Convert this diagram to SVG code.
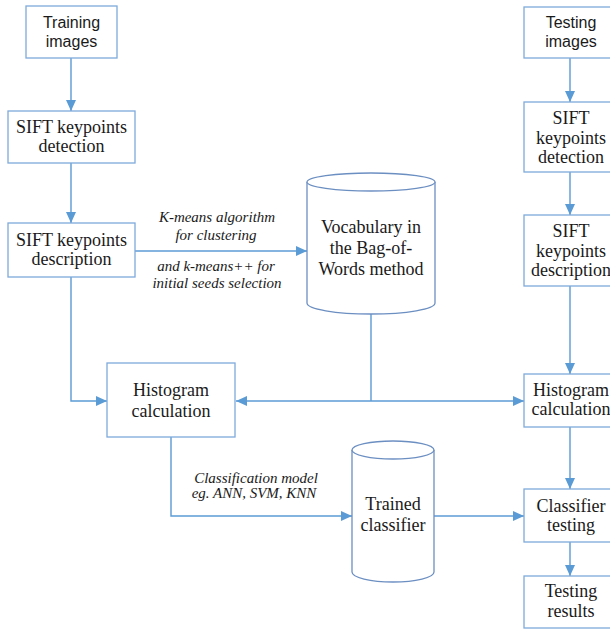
<svg xmlns="http://www.w3.org/2000/svg" width="610" height="629" viewBox="0 0 610 629">
<style>
.box{fill:#fff;stroke:#7FAADB;stroke-width:1.3}
.cyl{fill:#fff;stroke:#6C8FC2;stroke-width:1.3}
.ln{fill:none;stroke:#5B9BD5;stroke-width:1.4}
.t{font-family:"Liberation Serif","Times New Roman",serif;font-size:18px;fill:#1a1a1a;text-anchor:middle}
.s{font-family:"Liberation Sans",Arial,sans-serif;font-size:16px;fill:#1a1a1a;text-anchor:middle}
.i{font-family:"Liberation Serif","Times New Roman",serif;font-size:15px;font-style:italic;fill:#1a1a1a;text-anchor:middle}
</style>
<defs>
<marker id="ah" markerUnits="userSpaceOnUse" markerWidth="12" markerHeight="10" refX="11" refY="5" orient="auto">
<path d="M0,0 L11,5 L0,10 Z" fill="#5B9BD5"/>
</marker>
<marker id="ahs" markerUnits="userSpaceOnUse" markerWidth="12" markerHeight="10" refX="11" refY="5" orient="auto-start-reverse">
<path d="M0,0 L11,5 L0,10 Z" fill="#5B9BD5"/>
</marker>
</defs>
<rect width="610" height="629" fill="#fff"/>
<g id="connectors">
<line class="ln" x1="71" y1="58" x2="71" y2="111" marker-end="url(#ah)"/>
<line class="ln" x1="71" y1="163" x2="71" y2="223" marker-end="url(#ah)"/>
<line class="ln" x1="135" y1="251" x2="307" y2="251" marker-end="url(#ah)"/>
<polyline class="ln" points="71,277 71,401 107,401" marker-end="url(#ah)"/>
<line class="ln" x1="371" y1="314" x2="371" y2="401"/>
<line class="ln" x1="236" y1="401" x2="524" y2="401" marker-start="url(#ahs)" marker-end="url(#ahs)"/>
<polyline class="ln" points="171,437 171,516 352,516" marker-end="url(#ah)"/>
<line class="ln" x1="434" y1="516" x2="524" y2="516" marker-end="url(#ah)"/>
<line class="ln" x1="570" y1="58" x2="570" y2="102" marker-end="url(#ah)"/>
<line class="ln" x1="570" y1="172" x2="570" y2="215" marker-end="url(#ah)"/>
<line class="ln" x1="570" y1="286" x2="570" y2="374" marker-end="url(#ah)"/>
<line class="ln" x1="570" y1="427" x2="570" y2="489" marker-end="url(#ah)"/>
<line class="ln" x1="570" y1="542" x2="570" y2="576" marker-end="url(#ah)"/>
<text class="i" x="217" y="222">K-means algorithm</text>
<text class="i" x="216" y="240">for clustering</text>
<text class="i" x="216" y="271">and k-means++ for</text>
<text class="i" x="217" y="288">initial seeds selection</text>
<text class="i" x="256" y="483">Classification model</text>
<text class="i" x="254" y="498">eg. ANN, SVM, KNN</text>
</g>
<g id="training-images">
<rect class="box" x="26" y="6" width="91" height="52"/>
<text class="s" x="71.5" y="28">Training</text>
<text class="s" x="71.5" y="47">images</text>
</g>
<g id="sift-detection-train">
<rect class="box" x="8" y="111" width="127" height="52"/>
<text class="t" x="71.5" y="133">SIFT keypoints</text>
<text class="t" x="71.5" y="152">detection</text>
</g>
<g id="sift-description-train">
<rect class="box" x="8" y="223" width="127" height="54"/>
<text class="t" x="71.5" y="246">SIFT keypoints</text>
<text class="t" x="71.5" y="265">description</text>
</g>
<g id="vocabulary">
<path class="cyl" d="M307,182 L307,303 A64,11 0 0 0 435,303 L435,182"/>
<ellipse class="cyl" cx="371" cy="182" rx="64" ry="9"/>
<text class="t" x="371" y="233">Vocabulary in</text>
<text class="t" x="371" y="254">the Bag-of-</text>
<text class="t" x="371" y="275">Words method</text>
</g>
<g id="histogram-train">
<rect class="box" x="107" y="363" width="128" height="74"/>
<text class="t" x="171" y="396">Histogram</text>
<text class="t" x="171" y="417">calculation</text>
</g>
<g id="trained-classifier">
<path class="cyl" d="M352,450 L352,572 A41,10 0 0 0 434,572 L434,450"/>
<ellipse class="cyl" cx="393" cy="450" rx="41" ry="9"/>
<text class="t" x="393" y="510">Trained</text>
<text class="t" x="393" y="531">classifier</text>
</g>
<g id="testing-images">
<rect class="box" x="524" y="7" width="94" height="51"/>
<text class="s" x="571" y="28">Testing</text>
<text class="s" x="571" y="47">images</text>
</g>
<g id="sift-detection-test">
<rect class="box" x="524" y="102" width="94" height="70"/>
<text class="t" x="571" y="124">SIFT</text>
<text class="t" x="571" y="144">keypoints</text>
<text class="t" x="571" y="163">detection</text>
</g>
<g id="sift-description-test">
<rect class="box" x="524" y="215" width="94" height="71"/>
<text class="t" x="571" y="237">SIFT</text>
<text class="t" x="571" y="257">keypoints</text>
<text class="t" x="571" y="276">description</text>
</g>
<g id="histogram-test">
<rect class="box" x="524" y="374" width="94" height="53"/>
<text class="t" x="571" y="396">Histogram</text>
<text class="t" x="571" y="415">calculation</text>
</g>
<g id="classifier-testing">
<rect class="box" x="524" y="489" width="94" height="53"/>
<text class="t" x="571" y="512">Classifier</text>
<text class="t" x="571" y="531">testing</text>
</g>
<g id="testing-results">
<rect class="box" x="524" y="576" width="94" height="52"/>
<text class="t" x="571" y="597">Testing</text>
<text class="t" x="571" y="617">results</text>
</g>
</svg>
